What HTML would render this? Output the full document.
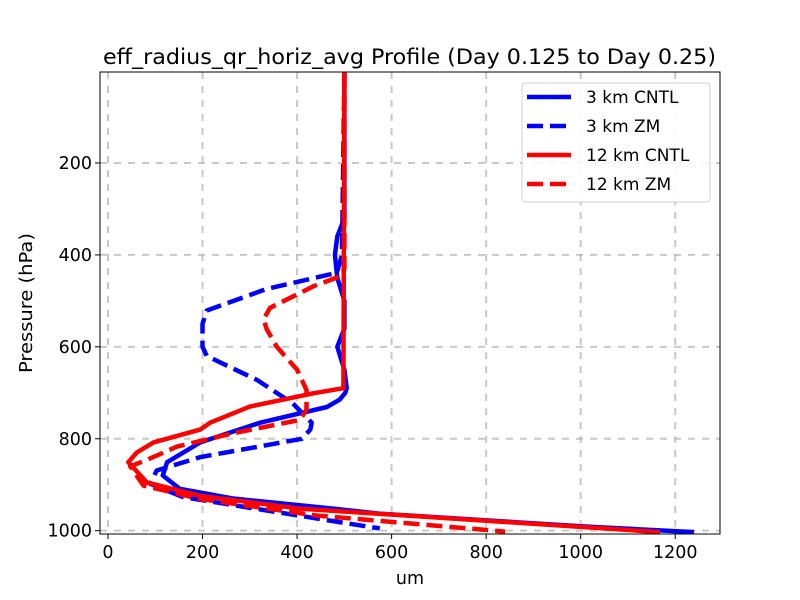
<!DOCTYPE html>
<html><head><meta charset="utf-8"><style>
body{margin:0;background:#fff;}
svg{display:block;font-family:"DejaVu Sans","Liberation Sans",sans-serif;}
</style></head><body>
<svg id="chart" width="800" height="600">
<text x="103" y="64" font-size="21" textLength="613" lengthAdjust="spacingAndGlyphs">eff_radius_qr_horiz_avg Profile (Day 0.125 to Day 0.25)</text>
<g id="grid"></g><g id="series"></g><g id="axes"></g>
<text x="410" y="584" font-size="17.5" text-anchor="middle">um</text>
<text transform="translate(32,373) rotate(-90)" font-size="17.5" textLength="140" lengthAdjust="spacingAndGlyphs">Pressure (hPa)</text>
<g id="legend"></g>
</svg>
<script>
const xTicks=[0,200,400,600,800,1000,1200];
const yTicks=[200,400,600,800,1000];
const seriesNames=["3 km CNTL","3 km ZM","12 km CNTL","12 km ZM"];
const seriesColors=["#0000ff","#0000ff","#ff0000","#ff0000"];
const seriesDashed=[false,true,false,true];
const cntl3P=[2,320,360,400,450,500,560,600,650,690,700,715,731,765,808,851,880,909,930,952,963,991,1003];
const cntl3V=[500,500,485,480,485,500,500,485,500,505,502,490,463,322,195,125,116,152,264,476,575,1009,1240];
const zm3P=[2,400,439,474,521,550,600,620,672,723,765,780,800,840,869,898,927,956,985,995];
const zm3V=[500,495,484,336,209,200,200,209,315,391,431,428,410,195,103,89,159,336,512,575];
const cntl12P=[2,690,701,730,765,780,808,830,851,895,924,952,1003];
const cntl12V=[500,498,434,300,216,195,96,61,43,82,195,406,1168];
const zm12P=[2,430,447,468,515,540,562,600,650,694,737,759,788,817,846,860,902,931,967,1002];
const zm12V=[500,500,490,435,343,329,336,357,400,420,420,406,265,146,82,47,75,195,441,840];
const allP=[cntl3P,zm3P,cntl12P,zm12P];
const allV=[cntl3V,zm3V,cntl12V,zm12V];
const L=100,R=720,T=72,B=534;
const xS=v=>108+v*0.4727;
const yS=p=>163+(p-200)*0.4596;
const NS="http://www.w3.org/2000/svg";
function mk(tag,parent,attrs){const e=document.createElementNS(NS,tag);for(const k in attrs)e.setAttribute(k,attrs[k]);parent.appendChild(e);return e;}
const grid=document.getElementById('grid'),axes=document.getElementById('axes'),ser=document.getElementById('series'),leg=document.getElementById('legend');
xTicks.forEach(t=>{
 const g=mk('line',grid,{x1:xS(t),x2:xS(t),y1:T,y2:B,stroke:'#b0b0b0','stroke-width':2,'stroke-dasharray':'7,7','stroke-opacity':0.7});
 
 
 mk('line',axes,{x1:xS(t),x2:xS(t),y1:B,y2:B+5,stroke:'#000','stroke-width':1});
 const tx=mk('text',axes,{x:xS(t),y:B+24,'font-size':17.5,'text-anchor':'middle'});tx.textContent=t;
 
 
});
yTicks.forEach(t=>{
 const g=mk('line',grid,{x1:L,x2:R,y1:yS(t),y2:yS(t),stroke:'#b0b0b0','stroke-width':2,'stroke-dasharray':'7,7','stroke-opacity':0.7});
 
 
 mk('line',axes,{x1:L-5,x2:L,y1:yS(t),y2:yS(t),stroke:'#000','stroke-width':1});
 const tx=mk('text',axes,{x:L-8,y:yS(t)+6,'font-size':17.5,'text-anchor':'end'});tx.textContent=t;
 
 
});
const fr=mk('rect',axes,{x:L,y:T,width:R-L,height:B-T,fill:'none',stroke:'#000','stroke-width':1});


const cp=mk('clipPath',ser,{id:'clp'});mk('rect',cp,{x:L,y:T,width:R-L,height:B-T});
allP.forEach((ps,i)=>{
 const d=ps.map((p,j)=>(j?'L':'M')+xS(allV[i][j]).toFixed(1)+','+yS(p).toFixed(1)).join(' ');
 const a={d:d,fill:'none',stroke:seriesColors[i],'stroke-width':4.5,'stroke-linejoin':'round','clip-path':'url(#clp)'};
 if(seriesDashed[i])a['stroke-dasharray']='16,7';
 const e=mk('path',ser,a);
 
 
});
mk('rect',leg,{x:522,y:83,width:188,height:119,rx:3,fill:'#fff','fill-opacity':0.85,stroke:'#d0d0d0','stroke-width':1});
seriesNames.forEach((n,i)=>{
 const y=97+i*29;
 const a={x1:527,x2:571,y1:y,y2:y,stroke:seriesColors[i],'stroke-width':4.5};
 if(seriesDashed[i])a['stroke-dasharray']='16,7';
 mk('line',leg,a);
 const t=mk('text',leg,{x:586,y:y+6,'font-size':17});t.textContent=n;
 
 
});
</script>
</body></html>
